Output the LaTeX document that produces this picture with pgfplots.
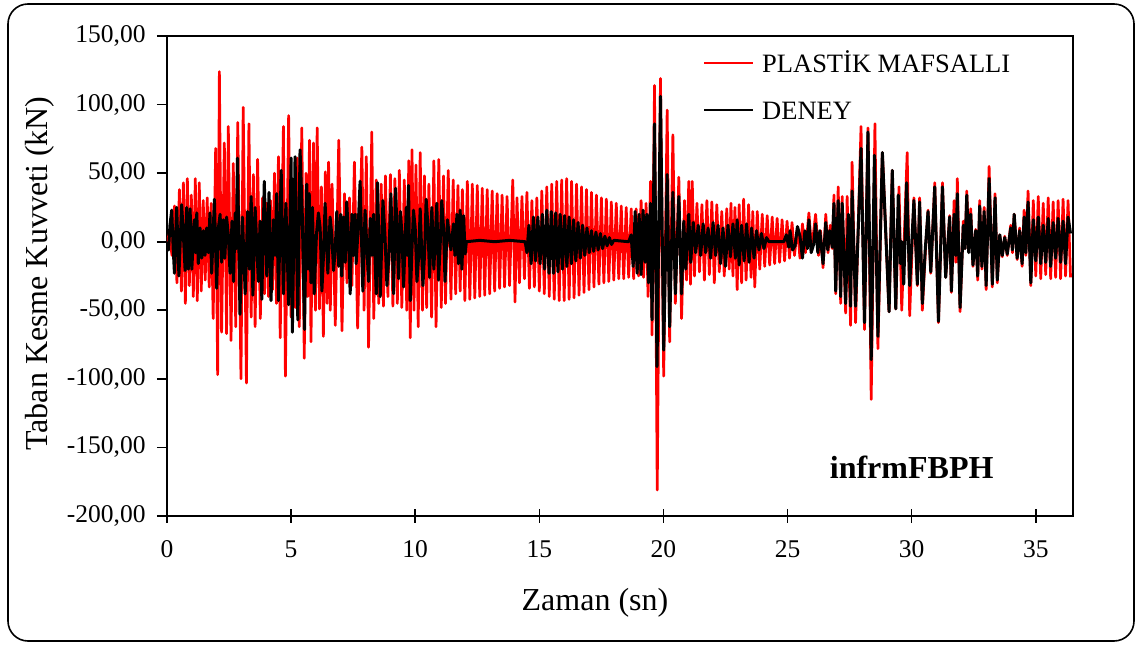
\documentclass[border=0pt]{standalone}
\usepackage{pgfplots}
\pgfplotsset{compat=1.18}
\usepackage{fontspec}
\setmainfont{Liberation Serif}
\definecolor{plred}{RGB}{255,0,0}
\begin{document}
\begin{tikzpicture}
\useasboundingbox (-83.5pt,-65pt) rectangle (485.5pt,258pt);
\draw[line width=0.8pt, rounded corners=10pt] (-79.5pt,-62.5pt) rectangle (483.5pt,256pt);
\begin{axis}[
  at={(0pt,0pt)}, anchor=south west,
  width=453pt, height=240pt, scale only axis,
  xmin=0, xmax=36.5, ymin=-200, ymax=150,
  xtick={0,5,...,35}, ytick={-200,-150,...,150},
  xtick pos=bottom, ytick pos=left,
  axis line style={line width=1pt},
  xtick align=center, ytick align=outside,
  major tick length=5pt,
  xtick style={line width=0.8pt, black, /pgfplots/major tick length=7pt},
  ytick style={line width=0.8pt, black},
  /pgf/number format/assume math mode=true,
  tick label style={font=\fontsize{12.75pt}{14pt}\selectfont},
  yticklabel style={/pgf/number format/fixed, /pgf/number format/fixed zerofill, /pgf/number format/precision=2, /pgf/number format/use comma, anchor=east, inner sep=0pt, xshift=-5.5pt},
  xticklabel style={anchor=north, inner sep=0pt, yshift=-9.5pt},
  xlabel={Zaman (sn)}, ylabel={Taban Kesme Kuvveti (kN)},
  every axis x label/.style={at={(rel axis cs:0.4724,0)}, yshift=-43.5pt, anchor=center, font=\fontsize{16pt}{18pt}\selectfont},
  every axis y label/.style={at={(rel axis cs:0,0.505)}, xshift=-63.5pt, rotate=90, anchor=center, font=\fontsize{16pt}{18pt}\selectfont},
  legend style={draw=none, fill=none, at={(0.5916,0.9625)}, anchor=north west, inner sep=0pt, outer sep=0pt, row sep=14.5pt, column sep=4pt, font=\fontsize{13.25pt}{15pt}\selectfont, nodes={inner sep=0pt, text height=9pt, text depth=0pt}},
  legend cell align=left,
  legend image code/.code={\draw[#1, line width=1.1pt] (0pt,0pt) -- (24.5pt,0pt);},
]
\addplot[plred, line width=1.35pt, line join=round] coordinates {
(0,0)(0.1,6)(0.2,-10)(0.3,26)(0.4,-30)(0.5,38)(0.58,-36)(0.66,43)(0.74,-45)(0.82,46)(0.9,-32)(0.98,34)(1.06,-40)(1.14,46)(1.22,-43)(1.3,43)(1.38,-36)(1.46,30)(1.54,-28)(1.62,32)(1.7,-33)(1.78,28)(1.86,-56)(1.96,68)(2.04,-97)(2.11,124)(2.2,-66)(2.31,72)(2.4,-67)(2.47,84)(2.58,-72)(2.67,57)(2.77,-62)(2.85,87)(2.98,-100)(3.07,98)(3.2,-103)(3.3,86)(3.39,-55)(3.48,49)(3.55,-62)(3.65,60)(3.76,-56)(3.85,32)(3.93,-38)(4.01,28)(4.09,-40)(4.17,30)(4.25,-35)(4.33,50)(4.41,-45)(4.49,62)(4.56,-70)(4.69,84)(4.77,-98)(4.9,92)(5.0,-55)(5.08,45)(5.17,-48)(5.25,61)(5.33,-62)(5.43,83)(5.53,-85)(5.6,50)(5.67,-40)(5.74,74)(5.8,-73)(5.9,72)(5.98,-50)(6.05,83)(6.14,-49)(6.22,40)(6.3,-69)(6.38,51)(6.45,-45)(6.51,58)(6.58,-50)(6.65,42)(6.78,-61)(6.92,74)(7.05,-65)(7.15,35)(7.25,-30)(7.35,32)(7.45,-32)(7.55,58)(7.68,-63)(7.85,69)(7.94,-50)(8.03,62)(8.12,-77)(8.25,80)(8.33,-56)(8.43,45)(8.53,-45)(8.63,42)(8.72,-47)(8.8,48)(8.9,-40)(9.0,49)(9.1,-47)(9.18,46)(9.28,-45)(9.36,52)(9.46,-48)(9.56,45)(9.66,-50)(9.74,59)(9.8,-70)(9.87,67)(9.95,-50)(10.03,56)(10.12,-62)(10.2,65)(10.29,-50)(10.37,48)(10.46,-48)(10.55,42)(10.66,-55)(10.75,59)(10.84,-62)(10.95,60)(11.05,-48)(11.14,48)(11.22,-45)(11.33,52)(11.44,-42)(11.53,45)(11.63,-38)(11.72,41)(11.81,-36)(11.9,38)(12.0,-43)(12.1,44)(12.2,-42)(12.3,42)(12.4,-41)(12.5,41)(12.6,-40)(12.7,39)(12.8,-39)(12.9,38)(13.0,-38)(13.1,37)(13.2,-36)(13.3,35)(13.4,-34)(13.5,34)(13.6,-33)(13.7,33)(13.8,-32)(13.93,45)(14.02,-44)(14.1,32)(14.2,-30)(14.3,33)(14.4,-27)(14.5,36)(14.6,-34)(14.7,30)(14.8,-33)(14.9,32)(15.0,-36)(15.1,37)(15.2,-38)(15.3,40)(15.4,-40)(15.5,42)(15.6,-42)(15.7,44)(15.8,-43)(15.9,45)(16.0,-43)(16.1,46)(16.2,-42)(16.3,44)(16.4,-41)(16.5,42)(16.6,-39)(16.7,40)(16.8,-37)(16.9,38)(17.0,-35)(17.1,36)(17.2,-33)(17.3,34)(17.4,-31)(17.5,32)(17.6,-30)(17.7,31)(17.8,-29)(17.9,29)(18.0,-28)(18.1,28)(18.2,-27)(18.3,26)(18.4,-27)(18.5,25)(18.6,-26)(18.7,24)(18.8,-27)(18.9,24)(19.0,-25)(19.1,30)(19.2,-26)(19.3,28)(19.38,-40)(19.48,44)(19.54,-68)(19.64,114)(19.75,-181)(19.88,119)(20.01,-98)(20.15,96)(20.25,-73)(20.38,78)(20.48,-45)(20.62,47)(20.73,-56)(20.85,30)(20.93,-28)(21.02,44)(21.09,-31)(21.16,44)(21.25,-25)(21.35,28)(21.45,-22)(21.55,27)(21.65,-28)(21.75,30)(21.85,-24)(21.95,29)(22.05,-30)(22.15,27)(22.25,-22)(22.35,22)(22.45,-25)(22.55,24)(22.65,-20)(22.72,28)(22.8,-25)(22.88,25)(22.97,-35)(23.05,27)(23.15,-30)(23.23,31)(23.33,-28)(23.43,27)(23.53,-26)(23.6,22)(23.68,-33)(23.78,22)(23.88,-20)(23.98,20)(24.08,-18)(24.18,19)(24.28,-17)(24.38,18)(24.48,-16)(24.58,17)(24.68,-15)(24.78,16)(24.88,-14)(24.98,15)(25.08,-12)(25.18,14)(25.28,-10)(25.4,11)(25.5,-12)(25.6,13)(25.72,-8)(25.86,21)(25.97,-6)(26.13,20)(26.25,-10)(26.33,8)(26.43,-19)(26.54,20)(26.63,-8)(26.72,12)(26.8,-5)(26.87,34)(26.94,-38)(27.04,40)(27.14,-45)(27.2,33)(27.34,-52)(27.4,33)(27.54,-61)(27.6,58)(27.74,-59)(27.96,84)(28.1,-64)(28.24,83)(28.37,-115)(28.52,86)(28.64,-78)(28.82,65)(29.09,-51)(29.22,52)(29.36,-49)(29.49,40)(29.6,-50)(29.82,65)(29.92,-54)(30.09,32)(30.23,-32)(30.32,32)(30.43,-50)(30.55,-8)(30.66,23)(30.77,-23)(30.93,43)(31.08,-59)(31.24,43)(31.37,-26)(31.53,19)(31.6,-37)(31.71,30)(31.78,-15)(31.84,46)(31.95,-51)(32.08,15)(32.15,-5)(32.22,37)(32.3,-5)(32.38,24)(32.47,-18)(32.58,9)(32.66,-28)(32.74,30)(32.83,-20)(32.92,25)(33.0,-35)(33.12,55)(33.25,-33)(33.36,35)(33.45,-30)(33.55,5)(33.65,-11)(33.75,4)(33.85,-10)(33.99,12)(34.06,-8)(34.13,20)(34.25,-13)(34.35,10)(34.45,-18)(34.53,23)(34.6,-10)(34.69,37)(34.8,-32)(34.9,30)(35.0,-25)(35.1,33)(35.2,-27)(35.3,28)(35.4,-24)(35.5,32)(35.6,-27)(35.7,29)(35.8,-26)(35.9,30)(36.0,-27)(36.1,31)(36.2,-25)(36.3,30)(36.4,-26)
};
\addlegendentry{PLASTİK MAFSALLI}
\addplot[black, line width=1.5pt, line join=round] coordinates {
(0,0)(0.06,-6)(0.12,12)(0.19,23)(0.25,-5)(0.3,-23)(0.39,25)(0.48,-25)(0.59,27)(0.66,5)(0.73,-21)(0.79,25)(0.86,-20)(0.93,24)(1.0,-20)(1.1,16)(1.15,-8)(1.2,21)(1.26,-16)(1.33,10)(1.4,-12)(1.47,8)(1.53,-10)(1.6,10)(1.67,-8)(1.73,21)(1.8,-23)(1.91,31)(2.0,-34)(2.07,10)(2.14,20)(2.2,-15)(2.27,16)(2.33,-12)(2.4,18)(2.47,5)(2.54,-23)(2.62,15)(2.68,-29)(2.75,21)(2.79,-5)(2.84,61)(2.94,-53)(3.04,18)(3.15,-38)(3.25,22)(3.32,-20)(3.39,33)(3.46,-39)(3.55,25)(3.68,-29)(3.75,15)(3.82,-42)(3.92,44)(4.02,-25)(4.11,36)(4.19,-43)(4.29,16)(4.35,-10)(4.42,35)(4.49,-43)(4.6,52)(4.69,-38)(4.79,28)(4.9,-46)(5.0,61)(5.05,-66)(5.16,62)(5.27,-57)(5.36,67)(5.45,20)(5.54,-64)(5.63,42)(5.68,-20)(5.73,35)(5.8,-30)(5.86,25)(5.93,-38)(6.02,5)(6.1,21)(6.17,10)(6.24,-36)(6.3,-12)(6.37,28)(6.48,-23)(6.57,18)(6.64,5)(6.71,-21)(6.78,-5)(6.84,22)(6.92,-18)(7.0,20)(7.04,-25)(7.12,18)(7.18,-15)(7.24,29)(7.31,5)(7.38,-38)(7.45,20)(7.51,-10)(7.58,20)(7.62,-16)(7.7,10)(7.78,44)(7.89,-36)(7.98,23)(8.12,-29)(8.19,17)(8.26,-10)(8.32,20)(8.43,-38)(8.48,43)(8.59,-40)(8.7,30)(8.78,5)(8.86,-32)(8.94,-10)(9.02,35)(9.13,-38)(9.21,39)(9.33,-27)(9.4,22)(9.47,5)(9.53,-33)(9.64,25)(9.68,-10)(9.73,41)(9.8,-43)(9.87,-5)(9.93,23)(10.0,10)(10.07,-29)(10.14,-10)(10.2,24)(10.31,-32)(10.38,-8)(10.44,31)(10.51,12)(10.58,-26)(10.67,25)(10.75,-20)(10.87,28)(10.94,-28)(11.0,-5)(11.07,30)(11.14,10)(11.2,-29)(11.3,16)(11.37,5)(11.44,-6)(11.54,13)(11.6,-10)(11.68,20)(11.74,-16)(11.81,23)(11.88,-20)(11.95,19)(12.01,-9)(12.06,0)(12.6,1)(13.2,0)(13.8,1)(14.43,0)(14.5,-8)(14.58,12)(14.67,-16)(14.76,18)(14.85,-14)(14.94,18)(15.03,-16)(15.12,20)(15.21,-20)(15.3,23)(15.39,-23)(15.48,22)(15.57,-23)(15.66,21)(15.75,-22)(15.84,20)(15.93,-20)(16.02,19)(16.11,-18)(16.2,18)(16.29,-16)(16.38,16)(16.47,-14)(16.56,14)(16.65,-12)(16.74,12)(16.83,-10)(16.92,10)(17.01,-8)(17.1,8)(17.19,-7)(17.28,7)(17.37,-6)(17.46,6)(17.55,-5)(17.64,4)(17.73,-3)(17.82,3)(17.91,-2)(18.0,1)(18.6,0)(18.7,5)(18.78,-18)(18.86,22)(18.94,-23)(19.02,20)(19.1,-24)(19.18,23)(19.26,-15)(19.33,20)(19.4,-30)(19.48,28)(19.54,-57)(19.64,86)(19.74,-91)(19.88,106)(20.01,-79)(20.15,49)(20.25,-62)(20.38,36)(20.48,-38)(20.62,33)(20.73,-38)(20.82,15)(20.9,-20)(21.02,20)(21.1,-15)(21.2,14)(21.3,-8)(21.4,12)(21.5,-10)(21.6,13)(21.7,-8)(21.8,10)(21.9,-12)(22.0,14)(22.1,-10)(22.2,12)(22.3,-16)(22.4,10)(22.5,-18)(22.6,12)(22.7,-11)(22.8,13)(22.9,-12)(22.97,16)(23.05,-17)(23.15,12)(23.25,-14)(23.35,13)(23.45,-15)(23.55,10)(23.65,-12)(23.75,8)(23.85,-6)(23.95,6)(24.05,-5)(24.15,3)(24.25,0)(24.85,0)(24.95,5)(25.05,-4)(25.1,8)(25.2,-6)(25.3,-3)(25.4,11)(25.5,4)(25.6,-12)(25.7,8)(25.8,-5)(25.86,16)(25.95,-8)(26.05,-2)(26.13,13)(26.22,-8)(26.3,8)(26.43,-16)(26.54,14)(26.62,-6)(26.7,8)(26.8,-4)(26.87,28)(26.94,-36)(27.04,30)(27.14,-40)(27.2,28)(27.34,-45)(27.45,20)(27.54,-47)(27.6,37)(27.74,-47)(27.96,68)(28.1,-59)(28.24,80)(28.37,-86)(28.5,63)(28.64,-69)(28.82,65)(29.09,-51)(29.22,52)(29.36,-49)(29.46,34)(29.55,-16)(29.6,0)(29.68,-31)(29.8,43)(29.92,-32)(30.09,30)(30.23,-31)(30.32,29)(30.43,-45)(30.55,-5)(30.66,22)(30.77,-22)(30.93,40)(31.08,-58)(31.24,40)(31.37,-26)(31.53,18)(31.6,-36)(31.71,20)(31.78,-10)(31.84,35)(31.95,-48)(32.08,12)(32.15,-5)(32.22,34)(32.3,-8)(32.38,20)(32.47,-17)(32.58,8)(32.66,-25)(32.74,26)(32.83,-18)(32.92,22)(33.0,-32)(33.12,46)(33.25,-31)(33.36,32)(33.45,-28)(33.55,5)(33.65,-10)(33.75,3)(33.85,-9)(33.99,10)(34.06,-6)(34.13,20)(34.25,-12)(34.35,8)(34.45,-16)(34.53,18)(34.6,-8)(34.69,29)(34.8,-30)(34.9,16)(35.0,-14)(35.1,18)(35.2,-16)(35.3,12)(35.4,-15)(35.5,17)(35.6,-18)(35.7,14)(35.8,-12)(35.9,17)(36.0,-15)(36.1,15)(36.2,-16)(36.3,18)(36.4,6)
};
\addlegendentry{DENEY}
\node[font=\fontsize{16pt}{18pt}\selectfont\bfseries] at (axis cs:30,-164.3) {infrmFBPH};
\end{axis}
\end{tikzpicture}
\end{document}
